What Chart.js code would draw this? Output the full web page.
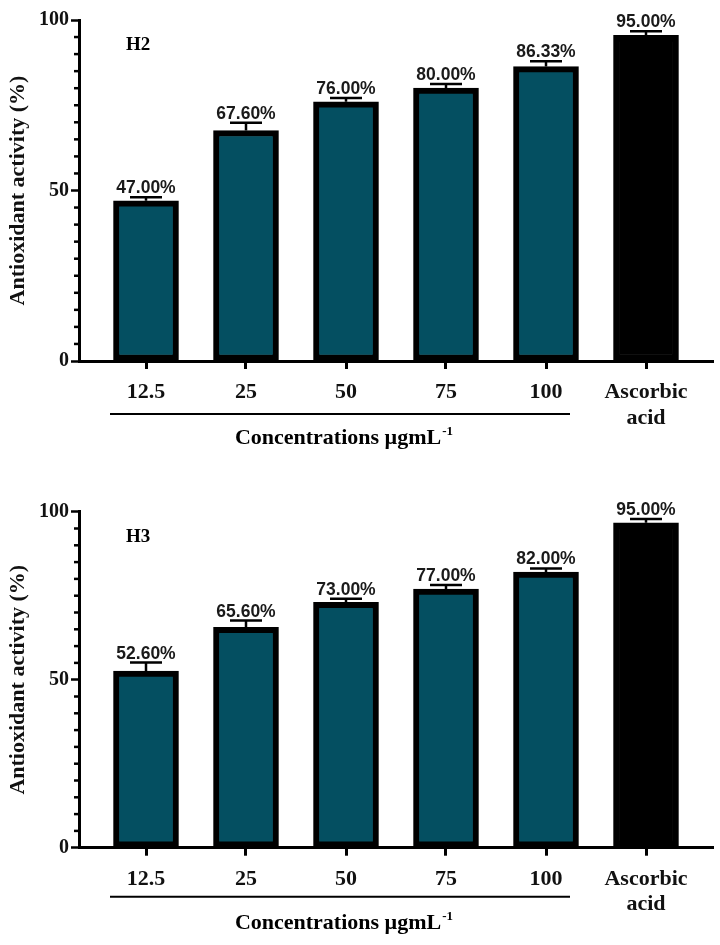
<!DOCTYPE html>
<html>
<head>
<meta charset="utf-8">
<script src="https://cdn.jsdelivr.net/npm/chart.js@4/dist/chart.umd.min.js"></script>
<style>
  html, body { margin: 0; padding: 0; background: #ffffff; }
  body { width: 720px; height: 945px; position: relative; overflow: hidden; }
  .panel { position: absolute; left: 0; width: 720px; }
  #p1 { top: 0; height: 470px; }
  #p2 { top: 470px; height: 475px; }
</style>
</head>
<body>
<div class="panel" id="p1"><canvas id="c1"></canvas></div>
<div class="panel" id="p2"><canvas id="c2"></canvas></div>
<script>
// ---- data ----
const categories = ['12.5', '25', '50', '75', '100', ['Ascorbic', 'acid']];
const yTickLabels = [0, 50, 100];

const h2Values = [47.0, 67.6, 76.0, 80.0, 86.33, 95.5];
const h2Errors = [1.0, 2.3, 1.1, 1.2, 1.6, 1.2];
const h2Labels = ['47.00%', '67.60%', '76.00%', '80.00%', '86.33%', '95.00%'];

const h3Values = [52.6, 65.6, 73.0, 77.0, 82.0, 96.7];
const h3Errors = [2.5, 2.0, 1.1, 1.2, 1.1, 1.1];
const h3Labels = ['52.60%', '65.60%', '73.00%', '77.00%', '82.00%', '95.00%'];

const panelTags = ['H2', 'H3'];
const yTitle = 'Antioxidant activity (%)';
const xTitleMain = 'Concentrations \u00b5gmL';
const xTitleSup = '-1';

// ---- styles ----
const TEAL = '#044f61';
const SERIF = '"Liberation Serif", "Times New Roman", serif';
const SANS = '"Liberation Sans", Arial, sans-serif';

const extrasPlugin = {
  id: 'extras',
  afterDatasetsDraw(chart, args, opts) {
    const ctx = chart.ctx;
    const ys = chart.scales.y;
    const xs = chart.scales.x;
    const meta = chart.getDatasetMeta(0);
    ctx.save();
    // error bars + value labels
    meta.data.forEach((el, i) => {
      const v = opts.values[i];
      const yTop = ys.getPixelForValue(v + opts.errors[i]);
      ctx.strokeStyle = '#000';
      ctx.lineWidth = 2.5;
      ctx.beginPath();
      ctx.moveTo(el.x, el.y);
      ctx.lineTo(el.x, yTop);
      ctx.moveTo(el.x - 16, yTop);
      ctx.lineTo(el.x + 16, yTop);
      ctx.stroke();
      ctx.fillStyle = '#1a1a1a';
      ctx.font = 'bold 17.5px ' + SANS;
      ctx.textAlign = 'center';
      ctx.textBaseline = 'alphabetic';
      ctx.fillText(opts.labels[i], el.x, yTop - 4);
    });
    // minor y ticks
    ctx.strokeStyle = '#000';
    ctx.lineWidth = 2.5;
    for (let v = 0; v <= 100; v += 5) {
      if (v % 50 === 0) continue;
      const y = ys.getPixelForValue(v);
      ctx.beginPath();
      ctx.moveTo(ys.right - 5, y);
      ctx.lineTo(ys.right, y);
      ctx.stroke();
    }
    // panel tag
    const ca = chart.chartArea;
    ctx.fillStyle = '#000';
    ctx.font = 'bold 19px ' + SERIF;
    ctx.textAlign = 'left';
    ctx.textBaseline = 'middle';
    ctx.fillText(opts.tag, ca.left + 47, ca.top + 25);
    // grouping line under concentrations
    const x0 = xs.getPixelForValue(-0.36);
    const x1 = xs.getPixelForValue(4.24);
    const ly = ca.bottom + opts.lineOffset;
    ctx.lineWidth = 2;
    ctx.beginPath();
    ctx.moveTo(x0, ly);
    ctx.lineTo(x1, ly);
    ctx.stroke();
    // axis title with superscript
    const fMain = 'bold 22px ' + SERIF;
    const fSup = 'bold 13px ' + SERIF;
    ctx.font = fMain;
    const wMain = ctx.measureText(xTitleMain).width;
    ctx.font = fSup;
    const wSup = ctx.measureText(xTitleSup).width;
    const cx = (x0 + x1) / 2 + 4;
    const startX = cx - (wMain + wSup + 1) / 2;
    const ty = ca.bottom + opts.titleOffset;
    ctx.textBaseline = 'alphabetic';
    ctx.font = fMain;
    ctx.fillText(xTitleMain, startX, ty + 7);
    ctx.font = fSup;
    ctx.fillText(xTitleSup, startX + wMain + 1, ty - 2);
    ctx.restore();
  }
};

function makeChart(id, values, errors, labels, tag, padTop, xHeight, lineOffset, titleOffset) {
  const data = values.map((v, i) => ({ x: i, y: v }));
  return new Chart(document.getElementById(id), {
    type: 'bar',
    data: {
      datasets: [{
        data: data,
        backgroundColor: values.map((v, i) => i === values.length - 1 ? '#000000' : TEAL),
        borderColor: '#000000',
        borderWidth: 6,
        borderSkipped: false,
        barThickness: 65
      }]
    },
    options: {
      responsive: true,
      maintainAspectRatio: false,
      animation: false,
      events: [],
      layout: { padding: { top: padTop, right: 7, left: 0, bottom: 0 } },
      plugins: {
        legend: { display: false },
        tooltip: { enabled: false },
        extras: { values, errors, labels, tag, lineOffset, titleOffset }
      },
      scales: {
        x: {
          type: 'linear',
          offset: false,
          min: -0.67,
          max: 5.67,
          afterBuildTicks(scale) {
            scale.ticks = categories.map((c, i) => ({ value: i }));
          },
          afterFit(scale) { scale.height = xHeight; },
          border: { display: true, color: '#000', width: 3 },
          grid: { display: true, offset: false, drawOnChartArea: false, drawTicks: true, tickLength: 8, tickWidth: 3, tickColor: '#000' },
          ticks: {
            autoSkip: false,
            maxRotation: 0,
            padding: 11,
            color: '#111',
            font: { family: SERIF, size: 22, weight: 'bold', lineHeight: 1.15 },
            callback: (v) => categories[v]
          }
        },
        y: {
          min: 0,
          max: 100,
          afterBuildTicks(scale) {
            const t = [];
            for (let v = 0; v <= 100; v += 5) t.push({ value: v });
            scale.ticks = t;
          },
          afterFit(scale) { scale.width = 79; },
          border: { display: true, color: '#000', width: 3 },
          grid: {
            display: true, drawOnChartArea: false, drawTicks: true, tickLength: 8, tickWidth: 2.5,
            tickColor: (c) => (c.tick && c.tick.value % 50 === 0) ? '#000' : 'rgba(0,0,0,0)'
          },
          ticks: {
            padding: 2,
            color: '#111',
            font: { family: SERIF, size: 20, weight: 'bold' },
            callback: (v) => yTickLabels.includes(v) ? String(v) : ''
          },
          title: {
            display: true,
            text: yTitle,
            color: '#111',
            padding: { top: 5, bottom: 4 },
            font: { family: SERIF, size: 22, weight: 'bold' }
          }
        }
      }
    },
    plugins: [extrasPlugin]
  });
}

makeChart('c1', h2Values, h2Errors, h2Labels, panelTags[0], 20, 109, 53, 76);
makeChart('c2', h3Values, h3Errors, h3Labels, panelTags[1], 41.7, 97.3, 49, 74);
</script>
</body>
</html>
